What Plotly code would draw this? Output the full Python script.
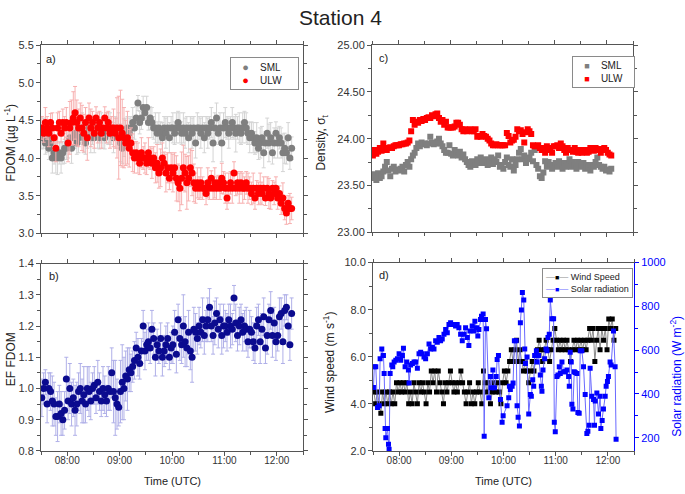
import pandas as pd
import plotly.graph_objects as go

# ---------------- data ----------------
# Panels a/b: samples every 2 min starting 07:31
ab_start = "2000-01-01 07:31"
fdom_ulw = [4.40, 4.33, 4.47, 4.40, 4.33, 4.47, 4.40, 4.27, 4.13, 4.40, 4.47, 4.33, 4.47, 4.40, 4.47,
            4.20, 4.40, 4.47, 4.53, 4.60, 4.47, 4.40, 4.53, 4.40, 4.33, 4.47, 4.27, 4.53, 4.40, 4.47,
            4.33, 4.53, 4.40, 4.47, 4.33, 4.40, 4.53, 4.40, 4.47, 4.33, 4.40, 4.40, 4.33, 4.40, 4.27,
            4.40, 4.33, 4.27, 4.20, 4.27, 4.13, 4.20, 4.07, 4.00, 4.07, 4.00, 3.93, 4.07, 4.00, 4.00,
            3.93, 4.07, 4.00, 3.93, 4.00, 3.87, 3.93, 3.80, 3.87, 4.00, 3.93, 3.80, 3.87, 3.73, 3.87,
            3.80, 3.87, 3.73, 3.67, 3.60, 3.73, 3.87, 3.80, 3.67, 3.73, 3.87, 3.80, 3.67, 3.60, 3.67,
            3.60, 3.67, 3.60, 3.60, 3.53, 3.67, 3.60, 3.73, 3.60, 3.67, 3.60, 3.67, 3.60, 3.73, 3.67,
            3.60, 3.47, 3.60, 3.67, 3.60, 3.80, 3.60, 3.67, 3.60, 3.67, 3.60, 3.60, 3.67, 3.60, 3.60,
            3.53, 3.60, 3.47, 3.60, 3.53, 3.60, 3.53, 3.60, 3.47, 3.60, 3.53, 3.47, 3.60, 3.53, 3.60,
            3.47, 3.53, 3.40, 3.47, 3.33, 3.27, 3.40, 3.33, 3.33]
fdom_ulw_err = [0.15, 0.12, 0.20, 0.15, 0.18, 0.12, 0.20, 0.15, 0.18, 0.20, 0.15, 0.12, 0.18, 0.15, 0.20,
                0.25, 0.35, 0.30, 0.35, 0.35, 0.30, 0.25, 0.20, 0.30, 0.25, 0.20, 0.30, 0.20, 0.25, 0.15,
                0.20, 0.15, 0.20, 0.15, 0.20, 0.12, 0.15, 0.20, 0.15, 0.20, 0.15, 0.25, 0.20, 0.40, 0.55,
                0.50, 0.45, 0.40, 0.30, 0.35, 0.25, 0.20, 0.25, 0.20, 0.15, 0.20, 0.15, 0.20, 0.15, 0.20,
                0.15, 0.20, 0.15, 0.20, 0.15, 0.20, 0.25, 0.20, 0.25, 0.20, 0.15, 0.25, 0.20, 0.15, 0.20,
                0.25, 0.20, 0.30, 0.25, 0.30, 0.35, 0.30, 0.25, 0.35, 0.30, 0.25, 0.30, 0.25, 0.20, 0.20,
                0.15, 0.20, 0.15, 0.10, 0.15, 0.20, 0.15, 0.10, 0.15, 0.20, 0.15, 0.10, 0.15, 0.20, 0.15,
                0.20, 0.15, 0.20, 0.15, 0.20, 0.15, 0.10, 0.15, 0.20, 0.15, 0.20, 0.15, 0.15, 0.20, 0.15,
                0.15, 0.20, 0.15, 0.10, 0.15, 0.20, 0.15, 0.15, 0.10, 0.15, 0.20, 0.15, 0.10, 0.15, 0.15,
                0.15, 0.10, 0.15, 0.20, 0.15, 0.15, 0.10, 0.20, 0.15]
fdom_sml = [4.27, 4.33, 4.20, 4.27, 4.13, 4.20, 4.00, 4.07, 4.00, 4.00, 4.07, 4.00, 4.07, 4.13, 4.13,
            4.20, 4.27, 4.13, 4.27, 4.33, 4.20, 4.27, 4.33, 4.40, 4.27, 4.20, 4.33, 4.40, 4.27, 4.33,
            4.27, 4.40, 4.33, 4.27, 4.40, 4.33, 4.27, 4.40, 4.33, 4.40, 4.33, 4.27, 4.40, 4.33, 4.40,
            4.20, 4.13, 4.27, 4.33, 4.40, 4.33, 4.40, 4.47, 4.40, 4.53, 4.73, 4.47, 4.53, 4.67, 4.60,
            4.67, 4.47, 4.53, 4.47, 4.40, 4.40, 4.33, 4.40, 4.33, 4.27, 4.40, 4.33, 4.40, 4.27, 4.40,
            4.40, 4.33, 4.40, 4.47, 4.40, 4.33, 4.40, 4.33, 4.40, 4.27, 4.40, 4.33, 4.40, 4.20, 4.40,
            4.40, 4.33, 4.40, 4.27, 4.40, 4.33, 4.40, 4.47, 4.20, 4.40, 4.53, 4.33, 4.40, 4.20, 4.40,
            4.47, 4.40, 4.33, 4.40, 4.47, 4.40, 4.33, 4.40, 4.40, 4.33, 4.40, 4.47, 4.40, 4.33, 4.27,
            4.33, 4.27, 4.20, 4.27, 4.13, 4.20, 4.27, 4.07, 4.20, 4.33, 4.20, 4.27, 4.07, 4.20, 4.33,
            4.20, 4.27, 4.20, 4.07, 4.13, 4.07, 4.27, 4.00, 4.13]
fdom_sml_err = [0.15, 0.20, 0.15, 0.20, 0.15, 0.20, 0.20, 0.15, 0.20, 0.22, 0.15, 0.20, 0.15, 0.20, 0.15,
                0.20, 0.15, 0.20, 0.15, 0.20, 0.15, 0.20, 0.15, 0.20, 0.20, 0.15, 0.20, 0.15, 0.20, 0.15,
                0.20, 0.15, 0.20, 0.15, 0.20, 0.20, 0.15, 0.20, 0.15, 0.20, 0.15, 0.20, 0.15, 0.20, 0.20,
                0.25, 0.20, 0.25, 0.20, 0.15, 0.20, 0.15, 0.20, 0.15, 0.15, 0.10, 0.15, 0.15, 0.15, 0.10,
                0.15, 0.10, 0.15, 0.20, 0.15, 0.20, 0.15, 0.20, 0.15, 0.20, 0.15, 0.20, 0.15, 0.20, 0.15,
                0.20, 0.15, 0.20, 0.15, 0.20, 0.15, 0.20, 0.20, 0.15, 0.20, 0.15, 0.20, 0.15, 0.20, 0.20,
                0.15, 0.20, 0.15, 0.20, 0.15, 0.20, 0.15, 0.20, 0.25, 0.20, 0.20, 0.15, 0.20, 0.25, 0.20,
                0.20, 0.15, 0.20, 0.15, 0.20, 0.15, 0.25, 0.15, 0.20, 0.15, 0.20, 0.15, 0.20, 0.15, 0.20,
                0.15, 0.20, 0.15, 0.20, 0.15, 0.20, 0.15, 0.20, 0.15, 0.20, 0.25, 0.20, 0.15, 0.20, 0.15,
                0.20, 0.15, 0.20, 0.25, 0.20, 0.15, 0.20, 0.15, 0.15]
ef_fdom = [0.97, 1.00, 1.02, 0.95, 1.00, 0.99, 0.96, 0.95, 0.91, 0.91, 0.95, 0.92, 0.90, 0.93, 1.03,
           0.96, 1.00, 0.95, 0.97, 0.93, 0.95, 0.99, 1.00, 0.96, 0.98, 0.95, 1.00, 0.99, 0.96, 1.00,
           1.01, 0.97, 1.02, 0.99, 0.96, 1.00, 0.98, 0.96, 1.00, 0.99, 1.05, 0.99, 0.97, 0.95, 0.94,
           0.99, 1.02, 1.00, 1.04, 1.03, 1.06, 1.05, 1.07, 1.09, 1.13, 1.10, 1.08, 1.12, 1.20, 1.12,
           1.14, 1.15, 1.13, 1.19, 1.16, 1.10, 1.14, 1.12, 1.16, 1.10, 1.12, 1.14, 1.16, 1.10, 1.13,
           1.14, 1.18, 1.11, 1.22, 1.16, 1.14, 1.20, 1.15, 1.13, 1.18, 1.12, 1.10, 1.19, 1.18, 1.16,
           1.20, 1.18, 1.22, 1.17, 1.20, 1.22, 1.26, 1.20, 1.17, 1.21, 1.24, 1.19, 1.22, 1.17, 1.20,
           1.20, 1.18, 1.22, 1.20, 1.19, 1.29, 1.21, 1.17, 1.20, 1.22, 1.18, 1.20, 1.19, 1.15, 1.19,
           1.18, 1.15, 1.13, 1.20, 1.22, 1.15, 1.19, 1.23, 1.13, 1.17, 1.22, 1.25, 1.17, 1.21, 1.15,
           1.17, 1.23, 1.24, 1.15, 1.25, 1.26, 1.20, 1.14, 1.24]
ef_fdom_err = [0.06, 0.05, 0.04, 0.06, 0.05, 0.06, 0.08, 0.07, 0.06, 0.08, 0.06, 0.07, 0.05, 0.06, 0.07,
               0.06, 0.08, 0.07, 0.06, 0.08, 0.07, 0.06, 0.08, 0.07, 0.09, 0.06, 0.07, 0.08, 0.06, 0.05,
               0.06, 0.05, 0.07, 0.06, 0.05, 0.07, 0.06, 0.05, 0.07, 0.06, 0.08, 0.10, 0.12, 0.08, 0.06,
               0.10, 0.12, 0.10, 0.08, 0.10, 0.07, 0.06, 0.05, 0.06, 0.05, 0.06, 0.05, 0.04, 0.05, 0.06,
               0.05, 0.06, 0.05, 0.06, 0.05, 0.06, 0.05, 0.04, 0.05, 0.06, 0.05, 0.06, 0.05, 0.04, 0.05,
               0.06, 0.07, 0.06, 0.05, 0.07, 0.06, 0.10, 0.08, 0.06, 0.07, 0.06, 0.08, 0.07, 0.06, 0.05,
               0.06, 0.05, 0.07, 0.06, 0.05, 0.07, 0.06, 0.05, 0.06, 0.07, 0.05, 0.06, 0.05, 0.06, 0.07,
               0.05, 0.06, 0.05, 0.07, 0.05, 0.04, 0.06, 0.05, 0.06, 0.05, 0.06, 0.05, 0.07, 0.05, 0.06,
               0.05, 0.06, 0.05, 0.06, 0.05, 0.07, 0.05, 0.06, 0.05, 0.06, 0.05, 0.06, 0.07, 0.05, 0.06,
               0.05, 0.06, 0.05, 0.07, 0.05, 0.04, 0.06, 0.05, 0.05]

# Panel c: density, every 2 min from 07:31
c_start = "2000-01-01 07:31"
dens_ulw = [23.82, 23.88, 23.84, 23.86, 23.90, 23.87, 23.95, 23.89, 23.88, 23.90, 23.91, 23.90, 23.92, 23.93, 23.93,
            23.93, 23.94, 23.94, 23.95, 23.95, 23.96, 23.98, 24.08, 24.20, 24.15, 24.18, 24.17, 24.20, 24.19, 24.21,
            24.20, 24.22, 24.23, 24.22, 24.25, 24.24, 24.26, 24.27, 24.22, 24.18, 24.20, 24.15, 24.18, 24.12, 24.12,
            24.12, 24.12, 24.13, 24.17, 24.17, 24.15, 24.10, 24.08, 24.10, 24.08, 24.09, 24.10, 24.08, 24.08, 24.10,
            24.02, 24.03, 24.02, 24.05, 24.03, 24.02, 24.00, 23.98, 23.95, 23.93, 23.93, 23.94, 23.93, 23.93, 23.93,
            23.93, 23.93, 24.06, 24.03, 23.96, 23.98, 23.99, 24.02, 24.10, 24.08, 24.09, 24.05, 23.96, 24.07, 24.10,
            24.08, 24.05, 23.93, 23.92, 23.92, 23.93, 23.90, 23.88, 23.90, 23.85, 23.92, 23.88, 23.90, 23.85, 23.92,
            23.92, 23.93, 23.90, 23.95, 23.92, 23.88, 23.85, 23.90, 23.88, 23.88, 23.86, 23.90, 23.86, 23.85, 23.88,
            23.85, 23.87, 23.88, 23.85, 23.86, 23.90, 23.88, 23.87, 23.90, 23.89, 23.88, 23.85, 23.89, 23.90, 23.88,
            23.85, 23.83, 23.82]
dens_sml = [23.58, 23.62, 23.56, 23.63, 23.58, 23.60, 23.65, 23.70, 23.75, 23.66, 23.60, 23.68, 23.70, 23.65, 23.67,
            23.66, 23.68, 23.70, 23.65, 23.72, 23.75, 23.70, 23.78, 23.82, 23.85, 23.90, 23.95, 23.92, 23.96, 23.94,
            23.95, 23.93, 23.95, 24.02, 23.96, 23.94, 23.95, 23.97, 24.00, 23.95, 23.92, 23.88, 23.85, 23.85, 23.93,
            23.84, 23.82, 23.88, 23.85, 23.82, 23.86, 23.80, 23.83, 23.78, 23.75, 23.72, 23.70, 23.76, 23.74, 23.72,
            23.78, 23.74, 23.80, 23.74, 23.76, 23.78, 23.72, 23.75, 23.80, 23.73, 23.78, 23.75, 23.82, 23.70, 23.72,
            23.68, 23.75, 23.80, 23.72, 23.70, 23.78, 23.66, 23.72, 23.78, 23.85, 23.89, 23.78, 23.82, 23.74, 23.78,
            23.80, 23.85, 23.76, 23.88, 23.72, 23.68, 23.60, 23.58, 23.64, 23.76, 23.70, 23.75, 23.72, 23.68, 23.72,
            23.74, 23.70, 23.76, 23.72, 23.68, 23.74, 23.70, 23.72, 23.78, 23.70, 23.75, 23.72, 23.68, 23.75, 23.72,
            23.70, 23.74, 23.68, 23.72, 23.70, 23.66, 23.72, 23.70, 23.75, 23.80, 23.72, 23.70, 23.68, 23.70, 23.66,
            23.67, 23.65, 23.68]

# Panel d: wind speed every 2 min from 07:31
d_start = "2000-01-01 07:31"
wind_speed = [4.5, 4.0, 4.5, 4.0, 3.6, 4.5, 4.0, 4.5, 4.0, 4.5, 4.0, 4.5, 4.0, 4.9, 4.5,
              4.9, 4.5, 4.9, 4.5, 4.9, 4.0, 4.5, 4.0, 4.9, 4.5, 4.0, 4.9, 4.5, 4.9, 4.5,
              4.0, 4.9, 4.5, 5.4, 4.9, 5.4, 4.5, 5.4, 4.9, 4.5, 4.0, 4.9, 4.5, 4.9, 5.4,
              4.9, 4.5, 4.9, 4.5, 4.9, 5.4, 4.9, 4.5, 4.0, 4.5, 4.9, 4.0, 4.5, 4.0, 4.5,
              4.9, 4.5, 4.0, 5.4, 4.9, 4.5, 4.9, 4.0, 4.5, 4.9, 4.5, 4.9, 4.5, 4.0, 4.9,
              5.4, 4.9, 5.4, 5.8, 6.3, 5.8, 6.3, 6.7, 5.8, 6.3, 5.8, 5.4, 5.8, 5.4, 4.9,
              5.4, 5.8, 5.4, 5.8, 6.3, 6.7, 6.3, 5.8, 6.3, 6.7, 6.3, 5.8, 6.3, 6.7, 7.2,
              6.7, 6.3, 6.7, 6.3, 6.7, 6.3, 6.7, 6.3, 5.8, 6.3, 6.7, 6.3, 6.7, 6.3, 6.7,
              6.3, 6.7, 6.3, 6.7, 7.2, 6.7, 7.2, 5.8, 6.7, 7.2, 6.3, 7.2, 6.7, 7.2, 6.3,
              7.6, 7.2, 7.6, 6.7, 7.2]

# Solar radiation: minutes after 07:30 and W m-2
solar_min = [0.5, 1.5, 3.2, 5.2, 7.1, 8.2, 10.1, 12.0, 12.8, 13.9, 14.7, 16.6, 17.8, 18.5, 19.7,
             21.6, 22.7, 24.3, 26.2, 28.1, 30.0, 31.9, 33.8, 35.0, 36.9, 38.8, 40.7, 41.4, 43.3, 45.3,
             47.2, 49.1, 51.0, 52.9, 54.8, 56.7, 58.6, 60.5, 62.5, 64.4, 66.3, 68.2, 70.1, 72.0, 73.9,
             75.8, 77.7, 79.6, 81.6, 83.5, 85.4, 87.3, 89.2, 91.1, 93.0, 94.9, 96.8, 98.7, 100.7, 102.6,
             104.5, 106.4, 108.3, 110.2, 111.4, 114.0, 116.0, 117.1, 119.0, 120.5, 121.7, 123.6, 124.7, 126.6, 127.8,
             129.3, 130.5, 133.1, 135.0, 135.8, 137.8, 139.7, 141.6, 142.7, 144.2, 146.5, 148.4, 149.6,
             154.1, 156.0, 156.8, 157.9, 159.9, 161.0, 162.5, 164.5, 165.6, 166.8, 168.3, 169.4, 170.6, 171.7, 173.3,
             174.4, 175.2, 177.1, 179.0, 180.9, 182.0, 183.6, 184.7, 185.8, 187.8, 188.5, 190.4, 192.3, 193.5, 194.2,
             195.4, 197.3, 198.8, 200.0, 201.1, 202.6, 203.8, 205.7, 207.6, 208.4, 209.5, 211.4, 212.6, 214.1, 215.3,
             217.2, 219.1, 221.0, 222.9, 224.8, 225.6, 226.7, 227.9, 228.6, 229.8, 231.3, 232.4, 234.4, 235.5, 237.0,
             238.2, 240.1, 242.0, 243.9, 245.8, 247.0, 248.5, 249.6, 251.5, 253.5, 254.6, 255.4, 257.3, 259.2, 261.1,
             261.9, 263.4, 264.9, 266.9, 268.0, 269.5, 270.6, 272.5, 273.7, 276.4, 278.3, 279.4]
solar_rad = [430, 524, 524, 338, 346, 561, 606, 576, 494, 242, 200, 242, 170, 148, 494,
             532, 524, 546, 554, 561, 584, 554, 576, 609, 524, 546, 509, 450, 532, 539,
             546, 546, 517, 584, 591, 584, 569, 561, 584, 628, 606, 613, 606, 643, 636,
             658, 643, 651, 673, 695, 680, 717, 725, 717, 717, 710, 717, 703, 673, 643,
             673, 703, 658, 621, 688, 710, 688, 732, 703, 665, 695, 740, 755, 765, 207,
             740, 698, 383, 480, 428, 509, 428, 480, 557, 576, 375, 271, 301,
             346, 383, 435, 420, 435, 450, 643, 643, 346, 294, 254, 725, 784, 863, 829,
             606, 539, 569, 309, 398, 390, 465, 435, 576, 598, 546, 576, 487, 435, 413,
             509, 561, 606, 598, 658, 673, 829, 744, 744, 271, 227, 480, 487, 524, 494,
             546, 502, 502, 509, 480, 435, 591, 546, 353, 331, 502, 498, 494, 316, 312,
             598, 598, 524, 398, 219, 230, 257, 517, 390, 375, 257, 368, 405, 309, 390,
             242, 279, 331, 390, 435, 457, 480, 546, 532, 688, 524, 193]

x_ticks_major = ["08:00", "09:00", "10:00", "11:00", "12:00"]

# ---------------- build ----------------
W, H = 685, 494
FONT = "Liberation Sans, Arial, sans-serif"
GRAY, RED, NAVY, BLUE = "#7f7f7f", "#ff0000", "#0b0b8f", "#0000ff"


def grid(start, n):
    return pd.date_range(start, periods=n, freq="2min")


t_ab = grid(ab_start, len(fdom_ulw))
t_c = grid(c_start, len(dens_ulw))
t_d = grid(d_start, len(wind_speed))
t_solar = [pd.Timestamp("2000-01-01 07:30") + pd.Timedelta(minutes=m) for m in solar_min]

fig = go.Figure()

# Panel a
fig.add_trace(go.Scatter(x=t_ab, y=fdom_sml, mode="markers", name="SML",
                         marker=dict(symbol="circle", size=7, color=GRAY),
                         error_y=dict(type="data", array=fdom_sml_err, color="#d4d4d4", thickness=1, width=2),
                         xaxis="x", yaxis="y"))
fig.add_trace(go.Scatter(x=t_ab, y=fdom_ulw, mode="markers", name="ULW",
                         marker=dict(symbol="circle", size=7, color=RED),
                         error_y=dict(type="data", array=fdom_ulw_err, color="#f7b0b0", thickness=1, width=2),
                         xaxis="x", yaxis="y"))
# Panel b
fig.add_trace(go.Scatter(x=t_ab, y=ef_fdom, mode="markers", name="EF FDOM",
                         marker=dict(symbol="circle", size=7, color=NAVY),
                         error_y=dict(type="data", array=ef_fdom_err, color="#b0b0e8", thickness=1, width=2),
                         xaxis="x2", yaxis="y2"))
# Panel c
fig.add_trace(go.Scatter(x=t_c, y=dens_sml, mode="markers", name="SML",
                         marker=dict(symbol="square", size=6, color=GRAY),
                         xaxis="x3", yaxis="y3"))
fig.add_trace(go.Scatter(x=t_c, y=dens_ulw, mode="markers", name="ULW",
                         marker=dict(symbol="square", size=6, color=RED),
                         xaxis="x3", yaxis="y3"))
# Panel d
fig.add_trace(go.Scatter(x=t_d, y=wind_speed, mode="lines+markers", name="Wind Speed",
                         line=dict(color="#8c8c8c", width=1),
                         marker=dict(symbol="square", size=5, color="#000000"),
                         xaxis="x4", yaxis="y4"))
fig.add_trace(go.Scatter(x=t_solar, y=solar_rad, mode="lines+markers", name="Solar radiation",
                         line=dict(color="#6a6aff", width=1),
                         marker=dict(symbol="square", size=5, color=BLUE),
                         xaxis="x4", yaxis="y5"))


def px_x(p):
    return p / W


def px_y(p):
    return 1 - p / H


tickfont = dict(family=FONT, size=11, color="#333333")
xtickfont = dict(family=FONT, size=10, color="#333333")
axcol = "#555555"
xr = ["2000-01-01 07:30", "2000-01-01 12:30"]
tickvals_x = ["2000-01-01 " + t for t in x_ticks_major]


def xaxis(domain, anchor, labels):
    return dict(domain=domain, anchor=anchor, type="date", range=xr,
                tickvals=tickvals_x, ticktext=x_ticks_major, showticklabels=labels,
                ticks="outside", ticklen=4, tickcolor=axcol, showline=True, linecolor=axcol,
                linewidth=1, mirror="ticks", showgrid=False, zeroline=False, tickfont=xtickfont,
                ticklabelstandoff=-4,
                minor=dict(dtick=1800000, tick0="2000-01-01 07:30", ticklen=3, tickcolor=axcol, showgrid=False),
                fixedrange=True)


def yaxis(domain, anchor, rng, dtick, fmt, minor, mirror="ticks"):
    return dict(domain=domain, anchor=anchor, range=rng, dtick=dtick, tick0=rng[0], tickformat=fmt,
                ticks="outside", ticklen=4, tickcolor=axcol, showline=True, linecolor=axcol,
                linewidth=1, mirror=mirror, showgrid=False, zeroline=False, tickfont=tickfont,
                minor=dict(dtick=minor, ticklen=3, tickcolor=axcol, showgrid=False))


xa = [px_x(41), px_x(303)]
xc = [px_x(372), px_x(633)]
xd = [px_x(373), px_x(634)]
ya = [px_y(233), px_y(40)]
yb = [px_y(456), px_y(264)]
yc = [px_y(232), px_y(40)]
yd = [px_y(456), px_y(263)]

fig.update_layout(
    width=W, height=H, margin=dict(l=0, r=0, t=0, b=0),
    paper_bgcolor="white", plot_bgcolor="white",
    font=dict(family=FONT, size=11, color="#222222"),
    showlegend=False,
    xaxis=xaxis(xa, "y", False),
    yaxis=yaxis(ya, "x", [3.0, 5.5], 0.5, ".1f", 0.25),
    xaxis2=xaxis(xa, "y2", True),
    yaxis2=yaxis(yb, "x2", [0.8, 1.4], 0.1, ".1f", 0.05),
    xaxis3=xaxis(xc, "y3", False),
    yaxis3=yaxis(yc, "x3", [23.0, 25.0], 0.5, ".2f", 0.25),
    xaxis4=xaxis(xd, "y4", True),
    yaxis4=yaxis(yd, "x4", [2.0, 10.0], 2.0, ".1f", 1.0, mirror=False),
    yaxis5=dict(domain=yd, anchor="x4", overlaying="y4", side="right", range=[140, 1000],
                tickvals=[200, 400, 600, 800, 1000], ticks="outside", ticklen=4,
                tickcolor=BLUE, showline=True, linecolor=BLUE, linewidth=1,
                showgrid=False, zeroline=False,
                tickfont=dict(family=FONT, size=11, color=BLUE),
                minor=dict(dtick=100, tick0=100, ticklen=3, tickcolor=BLUE, showgrid=False)),
)


def ann(text, x, y, size=12, angle=0, color="#222222", xanchor="center", yanchor="middle", **kw):
    fig.add_annotation(text=text, x=px_x(x), y=px_y(y), xref="paper", yref="paper",
                       showarrow=False, xanchor=xanchor, yanchor=yanchor, textangle=angle,
                       font=dict(family=FONT, size=size, color=color), **kw)


NB = "\u00a0"


def sym(ch, color, size):
    return f"<span style='color:{color};font-size:{size}px'>{ch}</span>"


ann("Station 4", 340, 12, size=21)
ann("a)", 51, 54, size=11)
ann("b)", 54, 277, size=11)
ann("c)", 383, 53, size=11)
ann("d)", 384, 276, size=11)
ann("FDOM (µg L<sup>-1</sup>)", 10, 140, size=12, angle=-90)
ann("EF FDOM", 11, 362, size=12, angle=-90)
ann("Density, σ<sub>t</sub>", 322, 140, size=12, angle=-90)
ann("Wind speed (m s<sup>-1</sup>)", 329, 366, size=12, angle=-90)
ann("Solar radiation (W m<sup>-2</sup>)", 676, 380, size=12, angle=-90, color=BLUE)
ann("Time (UTC)", 172, 487, size=11)
ann("Time (UTC)", 503, 487, size=11)

# legends (one box per panel)
legend_box = dict(bordercolor="#8a8a8a", borderwidth=1, borderpad=3, bgcolor="white", align="left")
ann(NB * 3 + sym("●", GRAY, 11) + NB * 4 + "SML" + NB * 5 + "<br>"
    + NB * 3 + sym("●", RED, 11) + NB * 4 + "ULW" + NB * 5,
    230, 52, size=10, xanchor="left", yanchor="top", **legend_box)
ann(NB * 3 + sym("■", GRAY, 9) + NB * 4 + "SML" + NB * 3 + "<br>"
    + NB * 3 + sym("■", RED, 9) + NB * 4 + "ULW" + NB * 3,
    572, 51, size=10, xanchor="left", yanchor="top", **legend_box)
ann(sym("—", "#8c8c8c", 9) + sym("■", "#000000", 7) + sym("—", "#8c8c8c", 9) + NB + "Wind Speed" + NB + "<br>"
    + sym("—", "#6a6aff", 9) + sym("■", BLUE, 7) + sym("—", "#6a6aff", 9) + NB + "Solar radiation",
    542, 269, size=9, xanchor="left", yanchor="top", **legend_box)

fig.write_html("out.html", config={"displayModeBar": False},
               post_script="document.body.style.margin='0';document.body.style.padding='0';")
